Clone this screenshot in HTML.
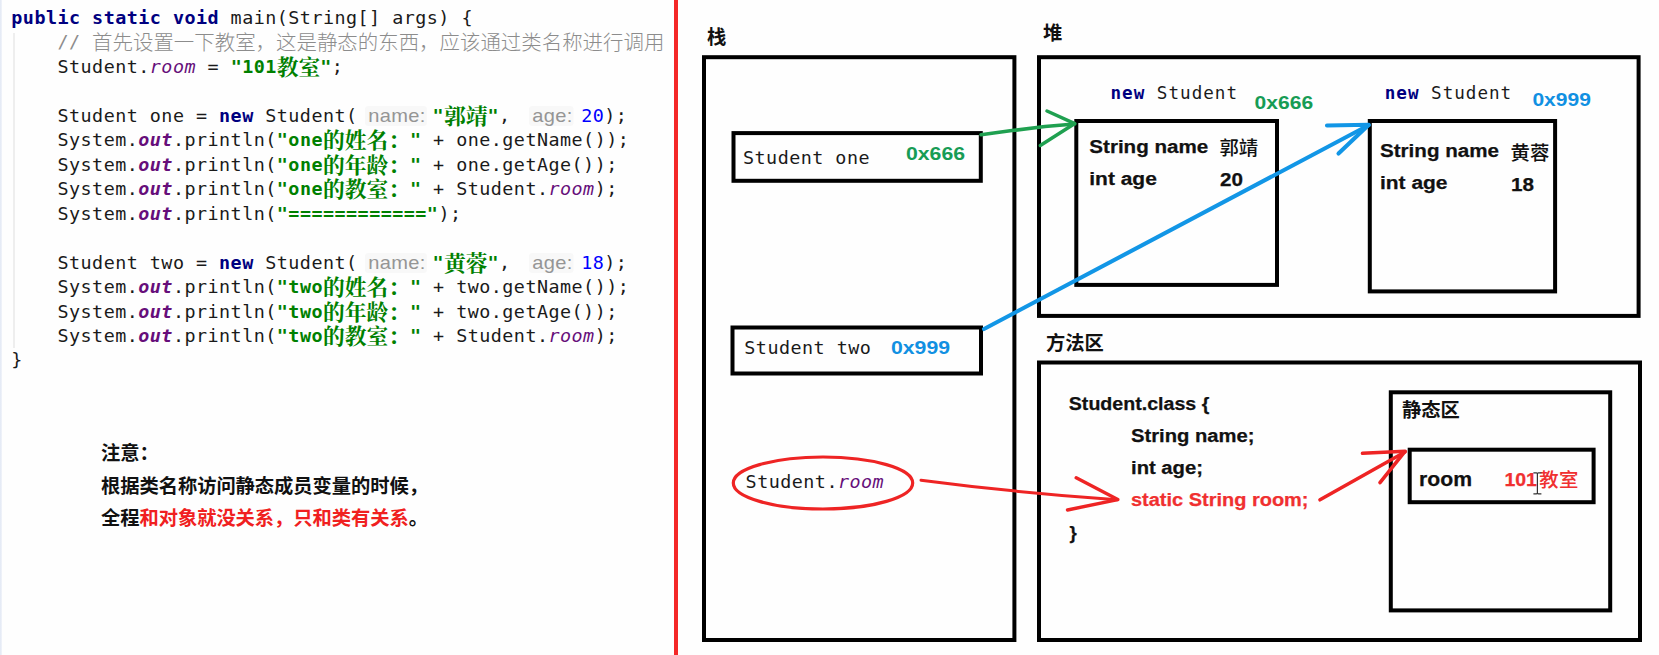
<!DOCTYPE html>
<html lang="zh-CN">
<head>
<meta charset="utf-8">
<title>static memory diagram</title>
<style>
html,body{margin:0;padding:0;}
body{width:1659px;height:655px;overflow:hidden;background:#fefefe;position:relative;
  font-family:"Liberation Sans","Noto Sans CJK SC",sans-serif;color:#000;}
#gutter{position:absolute;left:0;top:0;width:2px;height:655px;background:linear-gradient(90deg,#e2e8f4,#f1f4fa);}
#guide{position:absolute;left:13px;top:33px;width:2px;height:315px;background:#eeeeee;}
#redline{position:absolute;left:674px;top:0;width:4px;height:655px;background:#f42828;}
/* ---- code ---- */
#code{position:absolute;left:0;top:0;}
.ln span{line-height:0;}
.ln{position:absolute;left:11.3px;white-space:pre;height:24px;line-height:24px;
  font-family:"DejaVu Sans Mono","Liberation Mono","Noto Serif CJK SC",monospace;font-size:18.4px;letter-spacing:0.47px;color:#1a1a1a;}
.kw{color:#000080;font-weight:bold;}
.st{color:#008000;font-weight:bold;}
.st .cj{font-family:"Noto Serif CJK SC",serif;font-weight:700;font-size:21.75px;letter-spacing:0;position:relative;top:1.5px;}
.fd{color:#660e7a;font-style:italic;}
.fdb{color:#660e7a;font-style:italic;font-weight:bold;}
.nm{color:#0000ff;}
.cm{color:#8c8c8c;}
.cm .cj{font-family:"Noto Sans CJK SC",sans-serif;font-weight:300;font-size:20.45px;letter-spacing:0;position:relative;top:1.6px;}
.hint{font-family:"Liberation Sans",sans-serif;font-size:18.5px;letter-spacing:0.3px;transform:scaleX(1.085);transform-origin:0 50%;color:#959595;background:#f8f8f8;border-radius:3px;display:inline-block;height:20px;line-height:20px !important;vertical-align:baseline;padding:0 1.2px 0 3px;margin:0 10.5px 0 7.2px;}
/* ---- note ---- */
.note{position:absolute;left:101px;white-space:pre;font-family:"Liberation Sans","Noto Sans CJK SC",sans-serif;
  font-weight:bold;font-size:19.3px;line-height:24px;height:24px;color:#111;letter-spacing:-0.05px;}
.red{color:#f02020;}
/* ---- diagram ---- */
#dia{position:absolute;left:0;top:0;}
#dia text{white-space:pre;}
.lab{font-family:"Liberation Sans","Noto Sans CJK SC",sans-serif;font-weight:bold;font-size:19.3px;fill:#111;}
.mono{font-family:"DejaVu Sans Mono","Liberation Mono",monospace;font-size:18.4px;letter-spacing:0.47px;fill:#1a1a1a;}
.mono2{font-family:"DejaVu Sans Mono","Liberation Mono",monospace;font-size:17.6px;fill:#1a1a1a;}
.kwm{fill:#000080;font-weight:bold;}
.fdm{fill:#660e7a;font-style:italic;}
.sb{font-family:"Liberation Sans","Noto Sans CJK SC",sans-serif;font-weight:bold;font-size:18.7px;fill:#111;stroke:#111;stroke-width:0.25px;}
.sb2{font-family:"Liberation Sans","Noto Sans CJK SC",sans-serif;font-weight:bold;font-size:20.4px;fill:#111;stroke:#111;stroke-width:0.25px;}
.cjb{font-family:"Noto Sans CJK SC","Liberation Sans",sans-serif;font-weight:500;font-size:19.4px;fill:#111;}
.hexg{font-family:"Liberation Sans",sans-serif;font-weight:bold;font-size:18.9px;fill:#179c55;}
.hexb{font-family:"Liberation Sans",sans-serif;font-weight:bold;font-size:18.9px;fill:#1190e2;}
#dia .rd{fill:#f03030;stroke:#f03030;}
#dia .cjb{stroke:none;}
</style>
</head>
<body>
<div id="gutter"></div>
<div id="guide"></div>
<div id="redline"></div>

<div id="code">
<div class="ln" style="top:6px"><span class="kw">public static void</span> main(String[] args) {</div>
<div class="ln cm" style="top:30px">    // <span class="cj">首先设置一下教室，这是静态的东西，应该通过类名称进行调用</span></div>
<div class="ln" style="top:55px">    Student.<span class="fd">room</span> = <span class="st">"101<span class="cj">教室</span>"</span>;</div>
<div class="ln" style="top:104px">    Student one = <span class="kw">new</span> Student(<span class="hint">name:</span><span class="st">"<span class="cj">郭靖</span>"</span>, <span class="hint">age:</span><span class="nm">20</span>);</div>
<div class="ln" style="top:128px">    System.<span class="fdb">out</span>.println(<span class="st">"one<span class="cj">的姓名：</span>"</span> + one.getName());</div>
<div class="ln" style="top:153px">    System.<span class="fdb">out</span>.println(<span class="st">"one<span class="cj">的年龄：</span>"</span> + one.getAge());</div>
<div class="ln" style="top:177px">    System.<span class="fdb">out</span>.println(<span class="st">"one<span class="cj">的教室：</span>"</span> + Student.<span class="fd">room</span>);</div>
<div class="ln" style="top:202px">    System.<span class="fdb">out</span>.println(<span class="st">"============"</span>);</div>
<div class="ln" style="top:251px">    Student two = <span class="kw">new</span> Student(<span class="hint">name:</span><span class="st">"<span class="cj">黄蓉</span>"</span>, <span class="hint">age:</span><span class="nm">18</span>);</div>
<div class="ln" style="top:275px">    System.<span class="fdb">out</span>.println(<span class="st">"two<span class="cj">的姓名：</span>"</span> + two.getName());</div>
<div class="ln" style="top:300px">    System.<span class="fdb">out</span>.println(<span class="st">"two<span class="cj">的年龄：</span>"</span> + two.getAge());</div>
<div class="ln" style="top:324px">    System.<span class="fdb">out</span>.println(<span class="st">"two<span class="cj">的教室：</span>"</span> + Student.<span class="fd">room</span>);</div>
<div class="ln" style="top:348px">}</div>
</div>

<div class="note" style="top:442.4px">注意：</div>
<div class="note" style="top:474.6px">根据类名称访问静态成员变量的时候，</div>
<div class="note" style="top:506.8px">全程<span class="red">和对象就没关系，只和类有关系</span>。</div>

<svg id="dia" width="1659" height="655" viewBox="0 0 1659 655">
  <!-- big regions -->
  <g fill="none" stroke="#000" stroke-width="4">
    <rect x="704" y="57.2" width="310.4" height="582.8"/>
    <rect x="1039" y="57.2" width="599.6" height="258.7"/>
    <rect x="1039" y="362.5" width="601" height="277.5"/>
    <rect x="733.5" y="133.1" width="247.3" height="47.7"/>
    <rect x="732.5" y="327.5" width="248.5" height="46"/>
    <rect x="1076.3" y="121" width="200.7" height="163.9"/>
    <rect x="1369.8" y="121" width="185.3" height="170.4"/>
    <rect x="1390.8" y="392.3" width="219.4" height="218.1"/>
    <rect x="1409.7" y="449.7" width="183.9" height="52.5"/>
  </g>
  <!-- region titles -->
  <text class="lab" x="707" y="44">栈</text>
  <text class="lab" x="1043" y="39.5">堆</text>
  <text class="lab" x="1046" y="350">方法区</text>
  <text class="lab" x="1402" y="417">静态区</text>
  <!-- stack entries -->
  <text class="mono" x="743" y="163.5">Student one</text>
  <text class="hexg" x="906" y="159.8" textLength="59" lengthAdjust="spacingAndGlyphs">0x666</text>
  <text class="mono" x="744.3" y="354.2">Student two</text>
  <text class="hexb" x="891" y="354" textLength="59" lengthAdjust="spacingAndGlyphs">0x999</text>
  <text class="mono" x="745.6" y="487.6">Student.<tspan class="fdm">room</tspan></text>
  <!-- heap objects -->
  <text class="mono2" x="1110.5" y="98.9" textLength="126.5" lengthAdjust="spacing"><tspan class="kwm">new</tspan> Student</text>
  <text class="hexg" x="1254.6" y="108.6" textLength="58.5" lengthAdjust="spacingAndGlyphs">0x666</text>
  <text class="sb" x="1089.3" y="152.9" textLength="119" lengthAdjust="spacingAndGlyphs">String name</text>
  <text class="cjb" x="1219.4" y="155" textLength="38.8" lengthAdjust="spacing">郭靖</text>
  <text class="sb" x="1089.3" y="185.4" textLength="67.5" lengthAdjust="spacingAndGlyphs">int age</text>
  <text class="sb" x="1220" y="185.8" textLength="23" lengthAdjust="spacingAndGlyphs">20</text>

  <text class="mono2" x="1384.7" y="98.9" textLength="126.5" lengthAdjust="spacing"><tspan class="kwm">new</tspan> Student</text>
  <text class="hexb" x="1532.4" y="106.3" textLength="58.5" lengthAdjust="spacingAndGlyphs">0x999</text>
  <text class="sb" x="1380" y="156.6" textLength="119" lengthAdjust="spacingAndGlyphs">String name</text>
  <text class="cjb" x="1510.5" y="160.2" textLength="38.8" lengthAdjust="spacing">黄蓉</text>
  <text class="sb" x="1380" y="188.6" textLength="67.5" lengthAdjust="spacingAndGlyphs">int age</text>
  <text class="sb" x="1511" y="191.4" textLength="23" lengthAdjust="spacingAndGlyphs">18</text>
  <!-- method area -->
  <text class="sb" x="1068.8" y="409.7" textLength="140.5" lengthAdjust="spacingAndGlyphs">Student.class {</text>
  <text class="sb" x="1131" y="441.8" textLength="123.5" lengthAdjust="spacingAndGlyphs">String name;</text>
  <text class="sb" x="1131" y="474" textLength="72" lengthAdjust="spacingAndGlyphs">int age;</text>
  <text class="sb rd" x="1131" y="506.4" textLength="177.5" lengthAdjust="spacingAndGlyphs">static String room;</text>
  <text class="sb" x="1069.6" y="538.5">}</text>
  <!-- static area -->
  <text class="sb2" x="1419" y="486.4" textLength="53" lengthAdjust="spacingAndGlyphs">room</text>
  <text class="sb rd" x="1504.4" y="486.4" textLength="32.5" lengthAdjust="spacingAndGlyphs">101</text>
  <text class="cjb rd" x="1539.3" y="487" textLength="39" lengthAdjust="spacing">教室</text>
  <!-- I-beam cursor -->
  <g stroke="#333" stroke-width="1.2" fill="none">
    <path d="M1537.4 472.8V493.8M1533.4 472.8h3q1 0 1 1q0 -1 1 -1h3M1533.4 493.8h3q1 0 1 -1q0 1 1 1h3"/>
  </g>
  <!-- arrows -->
  <g fill="none" stroke="#1fa050" stroke-width="3.5" stroke-linecap="round" stroke-linejoin="round">
    <path d="M981 134.7 L1012 130.6 L1045 126.6 L1074.6 124"/>
    <path d="M1047 111 L1074.8 123.6 L1040.3 145.5"/>
  </g>
  <g fill="none" stroke="#1296e6" stroke-width="4.1" stroke-linecap="round" stroke-linejoin="round">
    <path d="M984 329 L1368.5 125.3"/>
    <path d="M1327 125.5 L1368.8 124.8 L1338.5 153.6"/>
  </g>
  <g fill="none" stroke="#ee2424" stroke-linecap="round" stroke-linejoin="round">
    <ellipse cx="823" cy="483" rx="89.7" ry="26" stroke-width="3.2"/>
    <path d="M921 480.2 Q1015 492.5 1117 499.8" stroke-width="3"/>
    <path d="M1076.2 477.8 L1117.8 499.6 L1067.5 510" stroke-width="3.4"/>
    <path d="M1320 499.8 L1405 452" stroke-width="3.6"/>
    <path d="M1362.5 453.3 L1405.2 451.2 L1380 482.6" stroke-width="3.6"/>
  </g>
</svg>
</body>
</html>
